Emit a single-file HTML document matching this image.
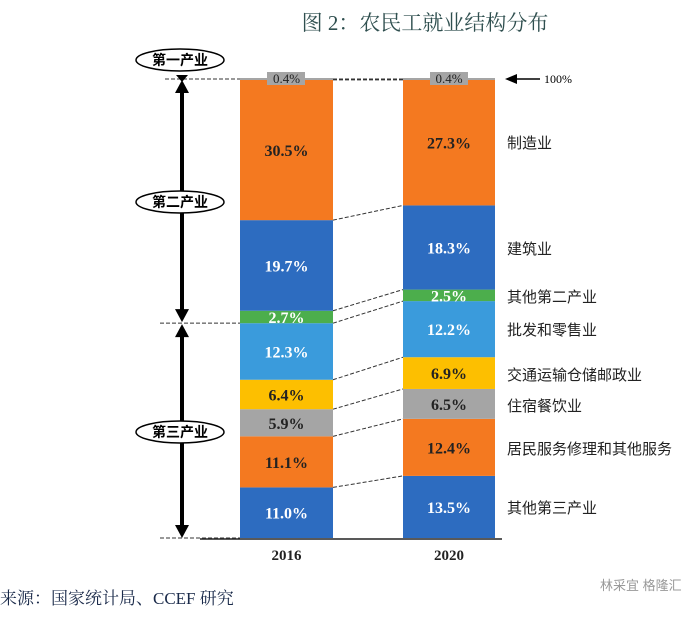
<!DOCTYPE html>
<html><head><meta charset="utf-8"><style>
body{margin:0;background:#fff;width:688px;height:617px;overflow:hidden}
svg text{font-family:"Liberation Serif","Noto Serif CJK SC",serif}
.cn{font-family:"Liberation Sans","Noto Sans CJK SC",sans-serif}
</style></head><body>
<svg width="688" height="617">
<text x="425" y="30" font-size="21" fill="#2f4f4f" text-anchor="middle">图 2：农民工就业结构分布</text>
<g id="bars"></g>
<text x="0" y="604" font-size="17" fill="#1a2a4a">来源：国家统计局、CCEF 研究</text>
<text x="600" y="590" font-size="13" fill="#999" class="cn">林采宜 格隆汇</text>
</svg>
<script>
const years=["2016","2020"];
const cats=["其他第三产业","居民服务修理和其他服务","住宿餐饮业","交通运输仓储邮政业","批发和零售业","其他第二产业","建筑业","制造业","第一产业"];
const v2016=[11.0,11.1,5.9,6.4,12.3,2.7,19.7,30.5,0.4];
const v2020=[13.5,12.4,6.5,6.9,12.2,2.5,18.3,27.3,0.4];
const colors=["#2d6cc0","#f47920","#a5a5a5","#fdbf00","#3a9bdc","#4cae4c","#2d6cc0","#f47920","#a5a5a5"];
const txtCol=["#fff","#222","#222","#222","#fff","#fff","#fff","#222","#222"];
const NS="http://www.w3.org/2000/svg";
const g=document.getElementById('bars');
const y0=538,y1=78;
const Y=p=>y0-(y0-y1)*p/100;
const bx=[240,403],bw=[93,92];
function el(t,a,txt){const e=document.createElementNS(NS,t);for(const k in a)e.setAttribute(k,a[k]);if(txt!=null)e.textContent=txt;g.appendChild(e);return e;}
const series=[v2016,v2020];
const cums=series.map(s=>{let c=[0];s.forEach(v=>c.push(c[c.length-1]+v));return c;});
for(let i=1;i<cats.length;i++){
 const l=el('line',{x1:bx[0]+bw[0],y1:Y(cums[0][i]),x2:bx[1],y2:Y(cums[1][i]),stroke:'#333','stroke-dasharray':'4,2','stroke-width':1});
 
 
}
series.forEach((s,j)=>{
 s.forEach((v,i)=>{
  const top=Y(cums[j][i+1]),bot=Y(cums[j][i]);
  const r=el('rect',{x:bx[j],y:top,width:bw[j],height:Math.max(bot-top,2),fill:colors[i]});
  
  
  const cy=(top+bot)/2+6;
  if(i==8){const b=el('rect',{x:bx[j]+27,y:top-6,width:38,height:13,fill:'#a5a5a5'});}
  const t=el('text',{x:bx[j]+bw[j]/2,y:i==8?top+5:cy,'font-size':i==8?13:16,'font-weight':i==8?'normal':'bold',fill:txtCol[i],'text-anchor':'middle'},v.toFixed(1)+'%');
  
  
 });
 const yl=el('text',{x:bx[j]+bw[j]/2,y:560,'font-size':15,'font-weight':'bold','text-anchor':'middle',fill:'#222'},years[j]);
 
 
});
const labY=[508,449,406,375,330,297,249,143];
for(let i=0;i<8;i++){
 const t=el('text',{x:507,y:labY[i]+5,'font-size':15,fill:'#222',class:'cn'},cats[i]);
 
 
}
const ax=el('line',{x1:200,y1:539,x2:502,y2:539,stroke:'#222','stroke-width':1.5});


const ysep=Y(cums[0][5]);
[[165,240,y1+1],[333,403,y1+1],[160,240,ysep],[160,240,y0]].forEach(d=>{
 const l=el('line',{x1:d[0],y1:d[2],x2:d[1],y2:d[2],stroke:'#333','stroke-dasharray':'4,2'});
 
 
});
function varrow(ya,yb,name){
 const l=el('line',{x1:182,y1:ya+10,x2:182,y2:yb-10,stroke:'#000','stroke-width':4});
 
 
 const p1=el('polygon',{points:`182,${ya} 175,${ya+13} 189,${ya+13}`,fill:'#000'});
 
 
 const p2=el('polygon',{points:`182,${yb} 175,${yb-13} 189,${yb-13}`,fill:'#000'});
 
 
}
varrow(80,ysep-1,'secondary-range-arrow');
varrow(ysep+1,y0,'tertiary-range-arrow');
const tt=el('polygon',{points:`176,75 188,75 182,82`,fill:'#000'});


[["第一产业",60],["第二产业",202],["第三产业",432]].forEach(d=>{
 const e=el('ellipse',{cx:180,cy:d[1],rx:44,ry:11,fill:'#fff',stroke:'#000','stroke-width':1.5});
 
 
 const t=el('text',{x:180,y:d[1]+5,'font-size':14,'text-anchor':'middle',fill:'#000',class:'cn','font-weight':'bold'},d[0]);
 
 
});
const a1=el('line',{x1:515,y1:79,x2:540,y2:79,stroke:'#000','stroke-width':1.5});


const a2=el('polygon',{points:'505,79 517,74 517,84',fill:'#000'});


const a3=el('text',{x:544,y:83,'font-size':12,fill:'#000'},'100%');


</script>
</body></html>
